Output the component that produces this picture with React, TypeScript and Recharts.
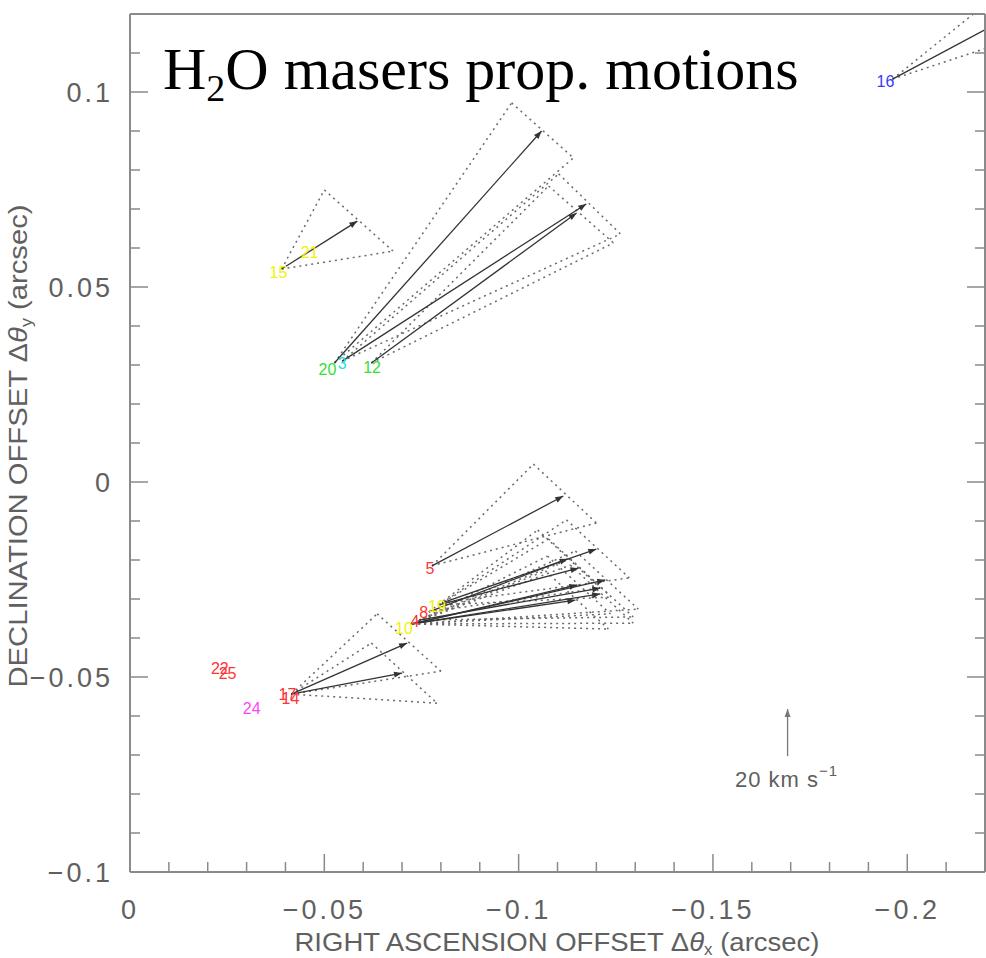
import { ScatterChart, Scatter, XAxis, YAxis, ReferenceLine } from 'recharts';

// maser labels (RA / Dec offsets in arcsec)
const maserLabels = [
  { id: '16', ra: -0.1944, dec: 0.1028 },
  { id: '15', ra: -0.0382, dec: 0.0538 },
  { id: '21', ra: -0.0462, dec: 0.0590 },
  { id: '20', ra: -0.0508, dec: 0.0290 },
  { id: '3', ra: -0.0546, dec: 0.0305 },
  { id: '12', ra: -0.0623, dec: 0.0295 },
  { id: '5', ra: -0.0772, dec: -0.0221 },
  { id: '10', ra: -0.0705, dec: -0.0374 },
  { id: '4', ra: -0.0733, dec: -0.0356 },
  { id: '8', ra: -0.0756, dec: -0.0333 },
  { id: '19', ra: -0.0790, dec: -0.0318 },
  { id: '22', ra: -0.0231, dec: -0.0477 },
  { id: '25', ra: -0.0251, dec: -0.0490 },
  { id: '24', ra: -0.0313, dec: -0.0579 },
  { id: '17', ra: -0.0405, dec: -0.0544 },
  { id: '14', ra: -0.0413, dec: -0.0554 },
];

const labelColor: Record<string, string> = {
  '16': '#3a3aff', '15': '#f2f200', '21': '#f2f200', '20': '#33e033', '3': '#22dddd',
  '12': '#33e033', '5': '#ff3333', '10': '#f2f200', '4': '#ff3333', '8': '#ff3333',
  '19': '#f2f200', '22': '#ff3333', '25': '#ff3333', '24': '#ff44ff', '17': '#ff3333', '14': '#ff3333',
};

// proper motion arrows: start (maser position) and tip
const arrowFrom = [
  [-0.1962, 0.1033], [-0.0390, 0.0546], [-0.0526, 0.0305], [-0.0546, 0.0310],
  [-0.0621, 0.0305], [-0.0777, -0.0215], [-0.0415, -0.0544], [-0.0415, -0.0544],
  [-0.0803, -0.0310], [-0.0795, -0.0315], [-0.0769, -0.0333], [-0.0726, -0.0364],
  [-0.0726, -0.0364], [-0.0726, -0.0364], [-0.0726, -0.0364], [-0.0744, -0.0354],
];
const arrowTo = [
  [-0.2464, 0.1300], [-0.0585, 0.0669], [-0.1059, 0.0900], [-0.1174, 0.0713],
  [-0.1149, 0.0690], [-0.1115, -0.0036], [-0.0713, -0.0413], [-0.0700, -0.0490],
  [-0.1200, -0.0172], [-0.1154, -0.0221], [-0.1126, -0.0197], [-0.1223, -0.0251],
  [-0.1151, -0.0264], [-0.1210, -0.0287], [-0.1146, -0.0303], [-0.1210, -0.0272],
];
// uncertainty cone corners
const coneA = [
  [-0.2387, 0.1374], [-0.0500, 0.0749], [-0.0982, 0.0972], [-0.1103, 0.0790],
  [-0.1077, 0.0759], [-0.1038, 0.0046], [-0.0636, -0.0338], [-0.0621, -0.0413],
  [-0.1123, -0.0097], [-0.1077, -0.0146], [-0.1049, -0.0123], [-0.1146, -0.0177],
  [-0.1074, -0.0190], [-0.1133, -0.0213], [-0.1069, -0.0228], [-0.1133, -0.0197],
];
const coneB = [
  [-0.2549, 0.1226], [-0.0677, 0.0592], [-0.1141, 0.0831], [-0.1262, 0.0636],
  [-0.1244, 0.0613], [-0.1200, -0.0105], [-0.0800, -0.0485], [-0.0790, -0.0567],
  [-0.1285, -0.0246], [-0.1238, -0.0295], [-0.1210, -0.0272], [-0.1308, -0.0326],
  [-0.1236, -0.0338], [-0.1295, -0.0362], [-0.1231, -0.0377], [-0.1295, -0.0346],
];

// 20 km/s scale arrow
const scaleFrom = [-0.1692, -0.0703];
const scaleTo = [-0.1692, -0.0582];

const xTicks = [0, -0.01, -0.02, -0.03, -0.04, -0.05, -0.06, -0.07, -0.08, -0.09, -0.1, -0.11,
  -0.12, -0.13, -0.14, -0.15, -0.16, -0.17, -0.18, -0.19, -0.2, -0.21, -0.22];
const xMajor = [0, -0.05, -0.1, -0.15, -0.2];
const yTicks = [-0.1, -0.09, -0.08, -0.07, -0.06, -0.05, -0.04, -0.03, -0.02, -0.01, 0, 0.01,
  0.02, 0.03, 0.04, 0.05, 0.06, 0.07, 0.08, 0.09, 0.1, 0.11, 0.12];
const yMajor = [-0.1, -0.05, 0, 0.05, 0.1];

const fmt = (v: number) => (v < 0 ? '\u2212' + Math.abs(v) : String(v));
const tickFont = "'Liberation Sans', Arial, sans-serif";
const frame = '#8a8a8a';
const textGrey = '#606060';

const BottomTick = (p: any) => {
  const v = p.payload.value;
  const major = xMajor.includes(v);
  return (
    <g>
      <line x1={p.x} x2={p.x} y1={p.y} y2={p.y - (major ? 18 : 10)} stroke={frame} strokeWidth={1.5} />
      {major && (
        <text x={p.x} y={p.y + 47} textAnchor="middle" fontFamily={tickFont} fontSize={27}
          letterSpacing={3} fill={textGrey}>{fmt(v)}</text>
      )}
    </g>
  );
};
const TopTick = (p: any) => {
  const major = xMajor.includes(p.payload.value);
  return <line x1={p.x} x2={p.x} y1={p.y} y2={p.y + (major ? 18 : 10)} stroke={frame} strokeWidth={1.5} />;
};
const LeftTick = (p: any) => {
  const v = p.payload.value;
  const major = yMajor.includes(v);
  return (
    <g>
      <line x1={p.x} x2={p.x + (major ? 18 : 10)} y1={p.y} y2={p.y} stroke={frame} strokeWidth={1.5} />
      {major && (
        <text x={p.x - 17} y={p.y + 10} textAnchor="end" fontFamily={tickFont} fontSize={27}
          letterSpacing={3} fill={textGrey}>{fmt(v)}</text>
      )}
    </g>
  );
};
const RightTick = (p: any) => {
  const major = yMajor.includes(p.payload.value);
  return <line x1={p.x} x2={p.x - (major ? 18 : 10)} y1={p.y} y2={p.y} stroke={frame} strokeWidth={1.5} />;
};

const arrowShape = (color: string) => (p: any) => {
  const { x1, y1, x2, y2 } = p;
  const len = Math.hypot(x2 - x1, y2 - y1) || 1;
  const ux = (x2 - x1) / len;
  const uy = (y2 - y1) / len;
  const bx = x2 - ux * 8;
  const by = y2 - uy * 8;
  const pts = `${x2},${y2} ${bx - uy * 3},${by + ux * 3} ${bx + uy * 3},${by - ux * 3}`;
  return (
    <g clipPath={p.clipPath}>
      <line x1={x1} y1={y1} x2={x2} y2={y2} stroke={color} strokeWidth={1.3} />
      <polygon points={pts} fill={color} />
    </g>
  );
};

const seg = (a: number[], b: number[]) => [{ x: a[0], y: a[1] }, { x: b[0], y: b[1] }];

const App = () => {
  const dotted = { stroke: '#6a6a6a', strokeWidth: 1.5, strokeDasharray: '2 4', ifOverflow: 'hidden' as const };
  return (
    <div style={{ position: 'absolute', left: 0, top: 0, width: 986, height: 958 }}>
      <ScatterChart width={986} height={958} margin={{ top: 4, right: 0, bottom: 26, left: 70 }}>
        <XAxis xAxisId="b" type="number" dataKey="ra" domain={[-0.22, 0]} reversed allowDataOverflow
          ticks={xTicks} interval={0} tick={<BottomTick />} tickLine={false} tickSize={0} tickMargin={0}
          height={60} axisLine={{ stroke: frame, strokeWidth: 2 }} />
        <XAxis xAxisId="t" orientation="top" type="number" domain={[-0.22, 0]} reversed allowDataOverflow
          ticks={xTicks} interval={0} tick={<TopTick />} tickLine={false} tickSize={0} tickMargin={0}
          height={10} axisLine={{ stroke: frame, strokeWidth: 2 }} />
        <YAxis yAxisId="l" type="number" dataKey="dec" domain={[-0.1, 0.12]} allowDataOverflow
          ticks={yTicks} interval={0} tick={<LeftTick />} tickLine={false} tickSize={0} tickMargin={0}
          width={60} axisLine={{ stroke: frame, strokeWidth: 2 }} />
        <YAxis yAxisId="r" orientation="right" type="number" domain={[-0.1, 0.12]} allowDataOverflow
          ticks={yTicks} interval={0} tick={<RightTick />} tickLine={false} tickSize={0} tickMargin={0}
          width={1} axisLine={{ stroke: frame, strokeWidth: 2 }} />

        {arrowFrom.map((s, i) => (
          <ReferenceLine key={'ca' + i} xAxisId="b" yAxisId="l" segment={seg(s, coneA[i])} {...dotted} />
        ))}
        {arrowFrom.map((s, i) => (
          <ReferenceLine key={'cb' + i} xAxisId="b" yAxisId="l" segment={seg(s, coneB[i])} {...dotted} />
        ))}
        {coneA.map((a, i) => (
          <ReferenceLine key={'cc' + i} xAxisId="b" yAxisId="l" segment={seg(a, coneB[i])} {...dotted} />
        ))}
        {arrowFrom.map((s, i) => (
          <ReferenceLine key={'ar' + i} xAxisId="b" yAxisId="l" segment={seg(s, arrowTo[i])}
            ifOverflow="hidden" shape={arrowShape('#333')} />
        ))}
        <ReferenceLine xAxisId="b" yAxisId="l" segment={seg(scaleFrom, scaleTo)} ifOverflow="hidden"
          shape={arrowShape('#777')} />

        <Scatter xAxisId="b" yAxisId="l" data={maserLabels} isAnimationActive={false}
          shape={(p: any) => (
            <text x={p.cx} y={p.cy} dy={6} textAnchor="middle" fontFamily={tickFont} fontSize={16}
              fill={labelColor[p.payload.id]}>{p.payload.id}</text>
          )} />
      </ScatterChart>

      <svg width={986} height={958} style={{ position: 'absolute', left: 0, top: 0, pointerEvents: 'none' }}>
        <text x={163} y={89} fontFamily="'Liberation Serif', 'Times New Roman', serif" fontSize={60} fill="#000">
          H<tspan fontSize={38} dy={12}>2</tspan><tspan dy={-12}>O masers prop. motions</tspan>
        </text>
        <text x={557} y={951} textAnchor="middle" fontFamily={tickFont} fontSize={26} fill={textGrey}
          textLength={525} lengthAdjust="spacingAndGlyphs">
          RIGHT ASCENSION OFFSET Δ<tspan fontStyle="italic">θ</tspan><tspan fontSize={16} dy={4}>x</tspan>
          <tspan dy={-4}> (arcsec)</tspan>
        </text>
        <text transform="translate(27,446) rotate(-90)" textAnchor="middle" fontFamily={tickFont} fontSize={26}
          fill={textGrey} textLength={483} lengthAdjust="spacingAndGlyphs">
          DECLINATION OFFSET Δ<tspan fontStyle="italic">θ</tspan><tspan fontSize={16} dy={5}>y</tspan>
          <tspan dy={-5}> (arcsec)</tspan>
        </text>
        <text x={735} y={787} fontFamily={tickFont} fontSize={22} fill={textGrey} letterSpacing={1}>
          20 km s<tspan fontSize={15} dy={-11}>−1</tspan>
        </text>
      </svg>
    </div>
  );
};

export default App;
